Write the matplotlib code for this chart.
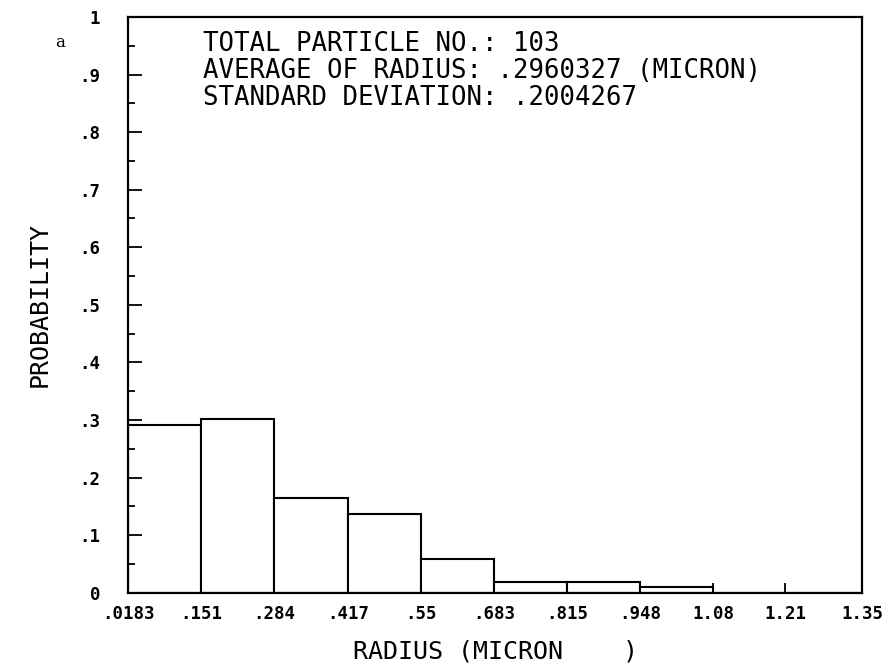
import matplotlib.pyplot as plt
import numpy as np

# histogram of particle radius, 103 particles, 10 bins
edges = [0.0183, 0.151, 0.284, 0.417, 0.55, 0.683, 0.815, 0.948, 1.08, 1.21, 1.35]
prob = [0.291, 0.301, 0.165, 0.136, 0.058, 0.0194, 0.0194, 0.0097, 0.0, 0.0]
xlabels = ['.0183', '.151', '.284', '.417', '.55', '.683', '.815', '.948', '1.08', '1.21', '1.35']
yticks = [0, .1, .2, .3, .4, .5, .6, .7, .8, .9, 1]
ylabels = ['0', '.1', '.2', '.3', '.4', '.5', '.6', '.7', '.8', '.9', '1']

mono = 'DejaVu Sans Mono'

fig = plt.figure(figsize=(8.86, 6.66), dpi=100)
ax = fig.add_axes([0.1445, 0.110, 0.8285, 0.8645])

widths = np.diff(edges)
ax.bar(edges[:-1], prob, width=widths, align='edge', color='white',
       edgecolor='black', linewidth=1.5)

ax.set_xlim(edges[0], edges[-1])
ax.set_ylim(0, 1)
ax.set_xticks(edges)
ax.set_xticklabels(xlabels, family=mono, fontsize=12.5, fontweight='bold')
ax.set_yticks(yticks)
ax.set_yticklabels(ylabels, family=mono, fontsize=12.5, fontweight='bold')
ax.set_yticks(np.arange(0.05, 1.0, 0.1), minor=True)
ax.tick_params(axis='y', which='major', direction='in', length=10, width=1.3, pad=20)
ax.tick_params(axis='y', which='minor', direction='in', length=5, width=1.3)
ax.tick_params(axis='x', which='major', direction='in', length=7, width=1.3, pad=9)
for s in ax.spines.values():
    s.set_linewidth(1.6)

ax.set_xlabel('RADIUS (MICRON    )', family=mono, fontsize=18, labelpad=12)
ax.set_ylabel('PROBABILITY', family=mono, fontsize=18, labelpad=20)

info = ('TOTAL PARTICLE NO.: 103\n'
        'AVERAGE OF RADIUS: .2960327 (MICRON)\n'
        'STANDARD DEVIATION: .2004267')
ax.text(0.102, 0.975, info, transform=ax.transAxes, family=mono, fontsize=18.5,
        va='top', ha='left', linespacing=1.05)

fig.text(0.068, 0.93, 'a', family='DejaVu Serif', fontsize=12, ha='center')

fig.savefig('out.png', dpi=100)
